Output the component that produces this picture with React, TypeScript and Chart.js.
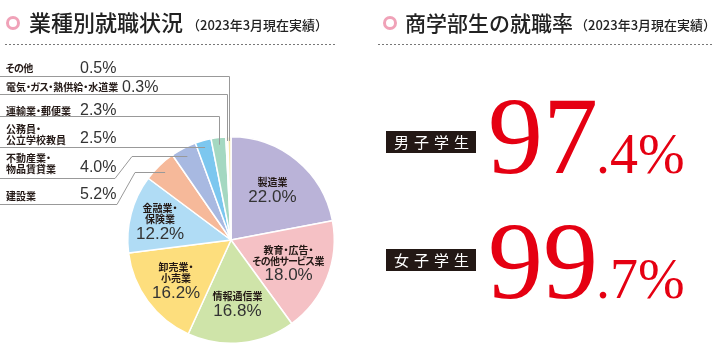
import React, { useEffect, useRef } from 'react';
import { Chart, registerables } from 'chart.js';

Chart.register(...registerables);

// ---- data ----
const categories = [
  '製造業',
  '教育・広告・その他サービス業',
  '情報通信業',
  '卸売業・小売業',
  '金融業・保険業',
  '建設業',
  '不動産業・物品賃貸業',
  '公務員・公立学校教員',
  '運輸業・郵便業',
  '電気・ガス・熱供給・水道業',
  'その他',
];
const shares = [22.0, 18.0, 16.8, 16.2, 12.2, 5.2, 4.0, 2.5, 2.3, 0.3, 0.5];
const labelLines = [
  ['製造業'],
  ['教育・広告・', 'その他サービス業'],
  ['情報通信業'],
  ['卸売業・', '小売業'],
  ['金融業・', '保険業'],
  ['建設業'],
  ['不動産業・', '物品賃貸業'],
  ['公務員・', '公立学校教員'],
  ['運輸業・郵便業'],
  ['電気・ガス・熱供給・水道業'],
  ['その他'],
];
const studentGroups = ['男子学生', '女子学生'];
const employmentRates = [97.4, 99.7];
const leftTitle = '業種別就職状況';
const rightTitle = '商学部生の就職率';
const subTitle = '（2023年3月現在実績）';

// ---- styles ----
const sliceColors = [
  '#bab3d8', '#f5c1c5', '#cfe4a9', '#fdde7d', '#b0dcf5',
  '#f6b99a', '#a8b9e1', '#7cc7ef', '#a4d8c1', '#f2f0e6', '#f5e6a8',
];
const insideRadius = [0.63, 0.6, 0.62, 0.66, 0.71];
const outsideLayout: Record<number, any> = {
  10: { ys: [68], px: 80, py: 69, lineY: 76.5, kind: 'v', r: 0.96 },
  9: { ys: [87], px: 122, py: 87.5, lineY: 94.5, kind: 'v', r: 0.96 },
  8: { ys: [111], px: 80, py: 111, lineY: 116.5, kind: 'v', r: 0.93 },
  7: { ys: [129, 140], px: 80, py: 139, lineY: 147.5, kind: 'h' },
  6: { ys: [158, 169], px: 80, py: 168, lineY: 178.5, kind: 'd', knee: [115, 132], r: 0.92 },
  5: { ys: [196], px: 80, py: 194.5, lineY: 204.5, kind: 'd', knee: [117, 135], r: 0.92 },
};
const CJK = '"Noto Sans CJK JP", "Noto Sans", sans-serif';
const NUM = '"Liberation Sans", Arial, sans-serif';
const TEXT = '#231815';
const RED = '#e50012';
const LABEL_SIZE = 10;

// proportional-ish CJK text drawing (narrow middle dots and kana)
function tightAdvances(ctx: CanvasRenderingContext2D, text: string, size: number) {
  return Array.from(text).map((ch) => {
    const m = ctx.measureText(ch).width;
    if (ch === '・') return { ch, m, adv: size * 0.5 };
    if (/[\u3040-\u30ff]/.test(ch)) return { ch, m, adv: size * 0.86 };
    return { ch, m, adv: m };
  });
}
function drawTight(ctx: CanvasRenderingContext2D, text: string, x: number, y: number, size: number, align: 'left' | 'center') {
  const parts = tightAdvances(ctx, text, size);
  const total = parts.reduce((s, p) => s + p.adv, 0);
  let cx = align === 'center' ? x - total / 2 : x;
  const prevAlign = ctx.textAlign;
  ctx.textAlign = 'left';
  for (const p of parts) {
    ctx.fillText(p.ch, cx + (p.adv - p.m) / 2, y);
    cx += p.adv;
  }
  ctx.textAlign = prevAlign;
}

const decorPlugin = {
  id: 'decor',
  afterDraw(chart: any) {
    const ctx = chart.ctx as CanvasRenderingContext2D;
    const meta = chart.getDatasetMeta(0);
    ctx.save();

    // headers
    const header = (cx: number, tx: number, title: string, size: number, sx: number, dash: [number, number]) => {
      ctx.beginPath();
      ctx.arc(cx, 23, 5.5, 0, Math.PI * 2);
      ctx.strokeStyle = '#f0a2b8';
      ctx.lineWidth = 3;
      ctx.stroke();
      ctx.fillStyle = '#222';
      ctx.textBaseline = 'middle';
      ctx.textAlign = 'left';
      ctx.font = `500 ${size}px ${CJK}`;
      ctx.fillText(title, tx, 23);
      ctx.font = `500 13px ${CJK}`;
      ctx.fillText(subTitle, sx, 25);
      ctx.beginPath();
      ctx.setLineDash([2, 2]);
      ctx.strokeStyle = '#777';
      ctx.lineWidth = 1;
      ctx.moveTo(dash[0], 44.5);
      ctx.lineTo(dash[1], 44.5);
      ctx.stroke();
      ctx.setLineDash([]);
    };
    header(13, 29, leftTitle, 22, 187, [5, 336]);
    header(390, 405, rightTitle, 21, 575, [378, 713]);

    const arcs = meta.data;
    const pointAt = (i: number, frac: number) => {
      const a = arcs[i];
      const mid = (a.startAngle + a.endAngle) / 2;
      const r = a.outerRadius * frac;
      return { x: a.x + Math.cos(mid) * r, y: a.y + Math.sin(mid) * r, mid, cx: a.x, cy: a.y };
    };

    // inside labels
    ctx.textBaseline = 'middle';
    for (let i = 0; i < 5; i++) {
      const p = pointAt(i, insideRadius[i]);
      const lines = labelLines[i];
      const h = (lines.length - 1) * 11 + 15;
      const y = p.y - h / 2;
      ctx.fillStyle = TEXT;
      ctx.font = `bold ${LABEL_SIZE}px ${CJK}`;
      lines.forEach((l, k) => drawTight(ctx, l, p.x, y + k * 11, LABEL_SIZE, 'center'));
      ctx.textAlign = 'center';
      ctx.font = `17px ${NUM}`;
      ctx.fillStyle = '#333';
      ctx.fillText(shares[i].toFixed(1) + '%', p.x, y + (lines.length - 1) * 11 + 15);
    }

    // outside labels + leaders
    ctx.textAlign = 'left';
    for (const key of Object.keys(outsideLayout)) {
      const i = Number(key);
      const L = outsideLayout[i];
      ctx.fillStyle = TEXT;
      ctx.font = `bold ${LABEL_SIZE}px ${CJK}`;
      labelLines[i].forEach((l, k) => drawTight(ctx, l, 6, L.ys[k], LABEL_SIZE, 'left'));
      ctx.font = `16px ${NUM}`;
      ctx.fillStyle = '#333';
      ctx.fillText(shares[i].toFixed(1) + '%', L.px, L.py);

      ctx.beginPath();
      ctx.strokeStyle = '#999';
      ctx.lineWidth = 1;
      if (L.kind === 'v') {
        const p = pointAt(i, L.r);
        const x = Math.round(p.x) + 0.5;
        ctx.moveTo(0, L.lineY);
        ctx.lineTo(x, L.lineY);
        ctx.lineTo(x, p.y);
      } else if (L.kind === 'h') {
        const p = pointAt(i, 1);
        const t = (L.lineY - p.cy) / Math.sin(p.mid);
        const x = p.cx + Math.cos(p.mid) * t;
        ctx.moveTo(0, L.lineY);
        ctx.lineTo(x, L.lineY);
      } else {
        const p = pointAt(i, L.r);
        const y = Math.round(p.y) + 0.5;
        ctx.moveTo(0, L.lineY);
        ctx.lineTo(L.knee[0], L.lineY);
        ctx.lineTo(L.knee[1], y);
        ctx.lineTo(p.x, y);
      }
      ctx.stroke();
    }

    // right side rates
    const baselines = [173, 298];
    const boxTops = [131, 249];
    studentGroups.forEach((g, k) => {
      ctx.fillStyle = TEXT;
      ctx.fillRect(386, boxTops[k], 90, 22);
      ctx.fillStyle = '#fff';
      ctx.font = `15px ${CJK}`;
      ctx.textBaseline = 'middle';
      ctx.textAlign = 'left';
      (ctx as any).letterSpacing = '5px';
      ctx.fillText(g, 394, boxTops[k] + 11.5);
      (ctx as any).letterSpacing = '0px';

      const [ip, dp] = employmentRates[k].toFixed(1).split('.');
      ctx.fillStyle = RED;
      ctx.textBaseline = 'alphabetic';
      ctx.font = `110px "Liberation Serif", "DejaVu Serif", serif`;
      ctx.fillText(ip, 488, baselines[k]);
      const w = ctx.measureText(ip).width;
      ctx.font = `56px "Liberation Serif", "DejaVu Serif", serif`;
      ctx.fillText('.' + dp + '%', 488 + w - 2, baselines[k]);
    });

    ctx.restore();
  },
};

export default function App() {
  const ref = useRef<HTMLCanvasElement>(null);
  useEffect(() => {
    const chart = new Chart(ref.current!, {
      type: 'pie',
      data: {
        labels: categories,
        datasets: [
          {
            data: shares,
            backgroundColor: sliceColors,
            borderColor: '#ffffff',
            borderWidth: 1.5,
          },
        ],
      },
      options: {
        responsive: false,
        animation: false,
        devicePixelRatio: 1,
        layout: { padding: { left: 127, top: 136, right: 381, bottom: 19 } },
        plugins: { legend: { display: false }, tooltip: { enabled: false } },
      },
      plugins: [decorPlugin],
    });
    return () => chart.destroy();
  }, []);
  return (
    <div style={{ position: 'absolute', left: 0, top: 0, width: 716, height: 363, background: '#fff' }}>
      <canvas ref={ref} width={716} height={363} />
    </div>
  );
}
